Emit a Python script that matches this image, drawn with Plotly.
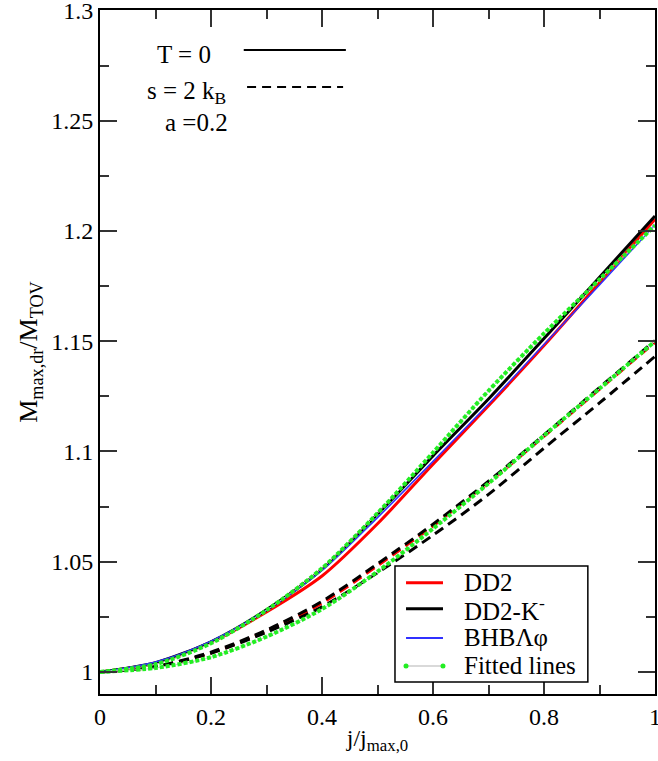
import plotly.graph_objects as go

# ---------------- data ----------------
j_ratio = [0.0, 0.1, 0.2, 0.3, 0.4, 0.5, 0.6, 0.7, 0.8, 0.9, 1.0]

# T = 0 (solid)
dd2_T0 = [1.0, 1.0040, 1.0135, 1.0272, 1.0435, 1.0672, 1.0942, 1.1207, 1.1480, 1.1765, 1.2053]
dd2k_T0 = [1.0, 1.0042, 1.0137, 1.0282, 1.0465, 1.0715, 1.0980, 1.1238, 1.1512, 1.1790, 1.2068]
bhb_T0 = [1.0, 1.0045, 1.0140, 1.0280, 1.0460, 1.0700, 1.0955, 1.1215, 1.1485, 1.1755, 1.2028]
fit_T0 = [1.0, 1.0035, 1.0130, 1.0280, 1.0470, 1.0720, 1.0995, 1.1275, 1.1535, 1.1780, 1.2025]

# s = 2 kB (dashed)
dd2_s2 = [1.0, 1.0024, 1.0086, 1.0185, 1.0312, 1.0482, 1.0662, 1.0858, 1.1068, 1.1282, 1.1495]
dd2k_s2 = [1.0, 1.0025, 1.0090, 1.0190, 1.0320, 1.0490, 1.0670, 1.0865, 1.1075, 1.1290, 1.1503]
bhb_s2 = [1.0, 1.0024, 1.0085, 1.0180, 1.0295, 1.0450, 1.0620, 1.0805, 1.1015, 1.1220, 1.1431]
fit_s2 = [1.0, 1.0018, 1.0067, 1.0160, 1.0285, 1.0455, 1.0650, 1.0855, 1.1072, 1.1285, 1.1500]

x_ticks = [0, 0.2, 0.4, 0.6, 0.8, 1.0]
y_ticks = [1.0, 1.05, 1.1, 1.15, 1.2, 1.25, 1.3]

FONT = "Liberation Serif, Times New Roman, Tinos, DejaVu Serif, serif"
fig = go.Figure()

def add(y, color, width, dash, shape="spline"):
    fig.add_trace(go.Scatter(
        x=j_ratio, y=y, mode="lines", showlegend=False,
        line=dict(color=color, width=width, dash=dash, shape=shape, smoothing=0.8),
        hoverinfo="skip"))

# dashed (s = 2 kB)
add(dd2_s2, "#ff0000", 3, "10px,6px")
add(bhb_s2, "#000000", 3, "10px,6px")
add(dd2k_s2, "#000000", 3, "10px,6px")
# solid (T = 0)
add(dd2_T0, "#ff0000", 3, "solid")
add(dd2k_T0, "#000000", 3, "solid")
add(bhb_T0, "#3030ff", 1.5, "solid")
# fitted lines
for f in (fit_T0, fit_s2):
    add(f, "#c8c8c8", 1, "solid")
    add(f, "#22ee22", 4, "4px,2px")

ann_font = dict(family=FONT, size=25, color="black")
annotations = [
    dict(text="T = 0", x=0.099, y=0.935, xref="paper", yref="paper", xanchor="left", yanchor="middle",
         showarrow=False, font=ann_font),
    dict(text="s = 2 k<sub>B</sub>", x=0.081, y=0.879, xref="paper", yref="paper", xanchor="left",
         yanchor="middle", showarrow=False, font=ann_font),
    dict(text="a =0.2", x=0.114, y=0.8355, xref="paper", yref="paper", xanchor="left", yanchor="middle",
         showarrow=False, font=ann_font),
]

# legend (box, samples, labels)
LX0, LX1, LY0, LY1 = 0.5315, 0.879, 0.0175, 0.187
shapes = [
    dict(type="line", xref="paper", yref="paper", x0=0.259, x1=0.443, y0=0.9415, y1=0.9415,
         line=dict(color="black", width=2)),
    dict(type="line", xref="paper", yref="paper", x0=0.265, x1=0.438, y0=0.8875, y1=0.8875,
         line=dict(color="black", width=2, dash="9px,6px")),
    dict(type="rect", xref="paper", yref="paper", x0=LX0, x1=LX1, y0=LY0, y1=LY1,
         fillcolor="white", line=dict(color="black", width=1.5), layer="above"),
]
leg_items = [("DD2", "#ff0000", 3), ("DD2-K<sup>-</sup>", "#000000", 3),
             ("BHBΛφ", "#3030ff", 2), ("Fitted lines", "#cccccc", 1.5)]
leg_y = [0.1625, 0.1245, 0.0820, 0.0410]
for (lab, col, w), yy in zip(leg_items, leg_y):
    shapes.append(dict(type="line", xref="paper", yref="paper", x0=0.5514, x1=0.6180, y0=yy, y1=yy,
                       line=dict(color=col, width=w), layer="above"))
    annotations.append(dict(text=lab, x=0.6523, y=yy, xref="paper", yref="paper", xanchor="left",
                            yanchor="middle", showarrow=False, font=dict(family=FONT, size=25)))
for xx in (0.5514, 0.6180):
    shapes.append(dict(type="circle", xref="paper", yref="paper", x0=xx - 0.0045, x1=xx + 0.0045,
                       y0=leg_y[3] - 0.0037, y1=leg_y[3] + 0.0037, fillcolor="#22ee22",
                       line=dict(width=0), layer="above"))

fig.update_layout(
    width=658, height=761,
    margin=dict(l=100, r=3, t=10, b=67, autoexpand=False),
    paper_bgcolor="white", plot_bgcolor="white",
    font=dict(family=FONT, size=24, color="black"),
    annotations=annotations, shapes=shapes, showlegend=False,
    xaxis=dict(range=[0, 1], tickvals=x_ticks, ticktext=[f"{v:g}" for v in x_ticks],
               ticks="inside", ticklen=17, tickwidth=1.5, tickcolor="#333",
               ticklabeloverflow="allow", automargin=False,
               minor=dict(ticks="inside", ticklen=9, dtick=0.1, tick0=0, tickwidth=1.5, tickcolor="#333"),
               showline=True, linecolor="black", linewidth=2, mirror="ticks",
               showgrid=False, zeroline=False,
               title=dict(text="j/j<sub>max,0</sub>", font=dict(size=24), standoff=0)),
    yaxis=dict(range=[0.99, 1.3002], tickvals=y_ticks, ticktext=[f"{v:g}" for v in y_ticks],
               ticks="inside", ticklen=17, tickwidth=1.5, tickcolor="#333",
               ticklabeloverflow="allow", automargin=False,
               minor=dict(ticks="inside", ticklen=9, dtick=0.025, tick0=1.0, tickwidth=1.5, tickcolor="#333"),
               showline=True, linecolor="black", linewidth=2, mirror="ticks",
               showgrid=False, zeroline=False,
               title=dict(text="M<sub>max,dr</sub>/M<sub>TOV</sub>", font=dict(size=26), standoff=6)),
)

fig.write_html("out.html", config={"displayModeBar": False},
               post_script="document.body.style.margin='0px';document.body.style.padding='0px';")
